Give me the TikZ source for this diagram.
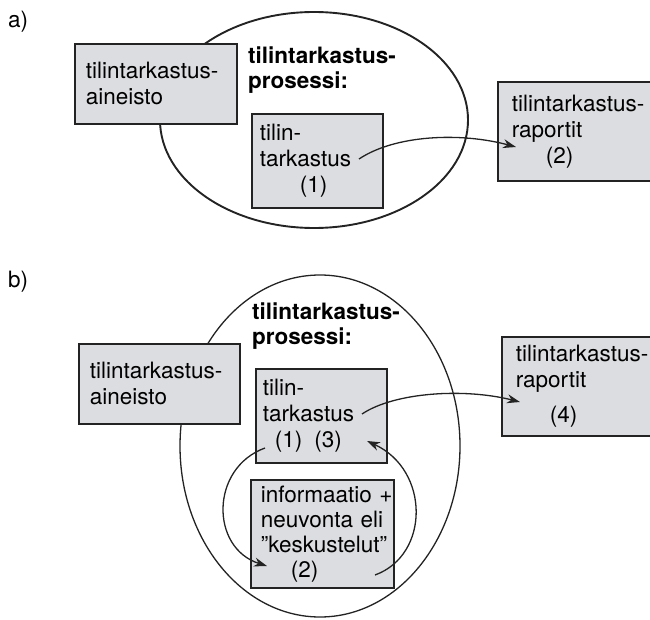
\documentclass[tikz,border=0pt]{standalone}
\usepackage{fontspec}
\setmainfont{TeX Gyre Heros}
\usetikzlibrary{arrows.meta}
\definecolor{boxgray}{RGB}{220,221,224}
\definecolor{inkgray}{RGB}{35,35,35}

\begin{document}
\begin{tikzpicture}[x=1pt,y=-1pt,
        card/.style={draw=inkgray,line width=1.6pt,fill=boxgray,anchor=north west,align=left,inner ysep=0pt,font=\fontsize{22.5}{26}\selectfont},
        title/.style={anchor=west,align=left,inner sep=0pt,font=\fontsize{22.5}{25}\selectfont\bfseries},
        flow/.style={draw=inkgray,line width=1.3pt,-{Stealth[length=13pt,width=9pt]}}]
        \useasboundingbox (0,0) rectangle (650,620);

        % a)
        \node[title] (tagA) at (8,22) {\mdseries a)};
        \draw[draw=inkgray,line width=1.9pt] (314,120) ellipse [x radius=154,y radius=108];
        \node[card,text width=140,inner xsep=11,minimum height=80] (aineistoA) at (74,43) {\mbox{tilintarkastus-}\\aineisto};
        \node[title] (prosessiA) at (248,70) {\mbox{tilintarkastus-}\\prosessi:};
        \node[card,text width=115,inner xsep=8,minimum height=94] (tarkastusA) at (251,113) {tilin-\\tarkastus\\\hspace*{40pt}(1)};
        \node[card,text width=136,inner xsep=14,minimum height=99] (raportitA) at (497,81) {\mbox{tilintarkastus-}\\raportit\\\hspace*{34pt}(2)};
        \coordinate (outA) at (359,159);
        \coordinate (inA) at (516,147);
        \draw[flow] (outA) .. controls (395,135) and (460,132) .. (inA);

        % b)
        \node[title] (tagB) at (8,282) {\mdseries b)};
        \draw[draw=inkgray,line width=1.3pt] (320,446) ellipse [x radius=140,y radius=171];
        \node[card,text width=139,inner xsep=11,minimum height=80] (aineistoB) at (78,343) {\mbox{tilintarkastus-}\\aineisto};
        \node[title] (prosessiB) at (252,326) {\mbox{tilintarkastus-}\\prosessi:};
        \node[card,text width=117,inner xsep=7,minimum height=94] (tarkastusB) at (255,368) {tilin-\\tarkastus\\\hspace*{12pt}(1)\hspace{12pt}(3)};
        \node[card,text width=123,inner xsep=10,minimum height=108,font=\fontsize{22.5}{25}\selectfont] (keskustelut) at (250,479) {\mbox{informaatio +}\\\mbox{neuvonta eli}\\\mbox{”keskustelut”}\\\hspace*{30pt}(2)};
        \node[card,text width=136,inner xsep=14,minimum height=99] (raportitB) at (501,336) {\mbox{tilintarkastus-}\\raportit\\[9pt]\hspace*{34pt}(4)};
        \coordinate (outB) at (362,414);
        \coordinate (inB) at (520,402);
        \coordinate (askB) at (265,448);
        \coordinate (talkB) at (267,566);
        \coordinate (backB) at (375,575);
        \coordinate (replyB) at (367,441);
        \draw[flow] (outB) .. controls (395,392) and (465,388) .. (inB);
        \draw[flow] (askB) .. controls (210,468) and (210,548) .. (talkB);
        \draw[flow] (backB) .. controls (430,555) and (430,470) .. (replyB);
\end{tikzpicture}
\end{document}
